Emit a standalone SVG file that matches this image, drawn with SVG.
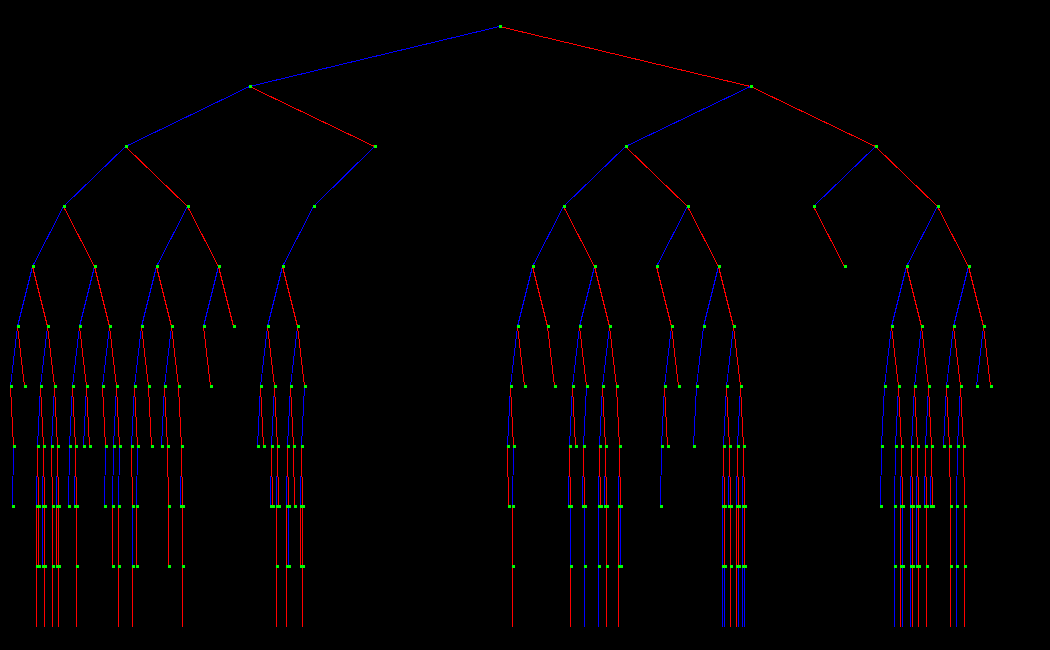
<svg xmlns="http://www.w3.org/2000/svg" xmlns:xlink="http://www.w3.org/1999/xlink" width="1050" height="650" viewBox="0 0 1050 650">
<style>
#edges line{stroke-width:1;fill:none}
.b{stroke:#0000ff}
.r{stroke:#ff0000}
.sq{fill:#00ff00}
</style>
<defs><rect id="q" class="sq" x="0" y="0" width="3" height="3"/></defs>
<rect x="0" y="0" width="1050" height="650" fill="#000000"/>
<g id="edges" transform="translate(-0.5 0.5)" shape-rendering="crispEdges">
<line class="b" x1="500" y1="26" x2="250" y2="86"/>
<line class="b" x1="250" y1="86" x2="126" y2="146"/>
<line class="b" x1="126" y1="146" x2="64" y2="206"/>
<line class="b" x1="64" y1="206" x2="33" y2="266"/>
<line class="b" x1="33" y1="266" x2="18" y2="326"/>
<line class="b" x1="18" y1="326" x2="11" y2="386"/>
<line class="r" x1="11" y1="386" x2="14" y2="446"/>
<line class="b" x1="14" y1="446" x2="13" y2="506"/>
<line class="r" x1="18" y1="326" x2="25" y2="386"/>
<line class="r" x1="33" y1="266" x2="48" y2="326"/>
<line class="b" x1="48" y1="326" x2="41" y2="386"/>
<line class="b" x1="41" y1="386" x2="38" y2="446"/>
<line class="b" x1="38" y1="446" x2="37" y2="506"/>
<line class="r" x1="37" y1="506" x2="37" y2="566"/>
<line class="r" x1="37" y1="566" x2="37" y2="626"/>
<line class="r" x1="38" y1="446" x2="39" y2="506"/>
<line class="r" x1="39" y1="506" x2="39" y2="566"/>
<line class="r" x1="41" y1="386" x2="44" y2="446"/>
<line class="b" x1="44" y1="446" x2="43" y2="506"/>
<line class="b" x1="43" y1="506" x2="43" y2="566"/>
<line class="r" x1="44" y1="446" x2="45" y2="506"/>
<line class="r" x1="45" y1="506" x2="45" y2="566"/>
<line class="r" x1="45" y1="566" x2="45" y2="626"/>
<line class="r" x1="48" y1="326" x2="55" y2="386"/>
<line class="b" x1="55" y1="386" x2="52" y2="446"/>
<line class="r" x1="52" y1="446" x2="53" y2="506"/>
<line class="r" x1="53" y1="506" x2="53" y2="566"/>
<line class="r" x1="53" y1="566" x2="53" y2="626"/>
<line class="r" x1="55" y1="386" x2="58" y2="446"/>
<line class="b" x1="58" y1="446" x2="57" y2="506"/>
<line class="r" x1="57" y1="506" x2="57" y2="566"/>
<line class="r" x1="58" y1="446" x2="59" y2="506"/>
<line class="r" x1="59" y1="506" x2="59" y2="566"/>
<line class="r" x1="59" y1="566" x2="59" y2="626"/>
<line class="r" x1="64" y1="206" x2="95" y2="266"/>
<line class="b" x1="95" y1="266" x2="80" y2="326"/>
<line class="b" x1="80" y1="326" x2="73" y2="386"/>
<line class="b" x1="73" y1="386" x2="70" y2="446"/>
<line class="b" x1="70" y1="446" x2="69" y2="506"/>
<line class="r" x1="73" y1="386" x2="76" y2="446"/>
<line class="b" x1="76" y1="446" x2="75" y2="506"/>
<line class="r" x1="76" y1="446" x2="77" y2="506"/>
<line class="r" x1="77" y1="506" x2="77" y2="566"/>
<line class="r" x1="77" y1="566" x2="77" y2="626"/>
<line class="r" x1="80" y1="326" x2="87" y2="386"/>
<line class="b" x1="87" y1="386" x2="84" y2="446"/>
<line class="r" x1="87" y1="386" x2="90" y2="446"/>
<line class="r" x1="95" y1="266" x2="110" y2="326"/>
<line class="b" x1="110" y1="326" x2="103" y2="386"/>
<line class="r" x1="103" y1="386" x2="106" y2="446"/>
<line class="b" x1="106" y1="446" x2="105" y2="506"/>
<line class="r" x1="110" y1="326" x2="117" y2="386"/>
<line class="b" x1="117" y1="386" x2="114" y2="446"/>
<line class="b" x1="114" y1="446" x2="113" y2="506"/>
<line class="r" x1="113" y1="506" x2="113" y2="566"/>
<line class="r" x1="117" y1="386" x2="120" y2="446"/>
<line class="b" x1="120" y1="446" x2="119" y2="506"/>
<line class="r" x1="119" y1="506" x2="119" y2="566"/>
<line class="r" x1="119" y1="566" x2="119" y2="626"/>
<line class="r" x1="126" y1="146" x2="188" y2="206"/>
<line class="b" x1="188" y1="206" x2="157" y2="266"/>
<line class="b" x1="157" y1="266" x2="142" y2="326"/>
<line class="b" x1="142" y1="326" x2="135" y2="386"/>
<line class="b" x1="135" y1="386" x2="132" y2="446"/>
<line class="r" x1="132" y1="446" x2="133" y2="506"/>
<line class="b" x1="133" y1="506" x2="133" y2="566"/>
<line class="r" x1="133" y1="566" x2="133" y2="626"/>
<line class="r" x1="135" y1="386" x2="138" y2="446"/>
<line class="b" x1="138" y1="446" x2="137" y2="506"/>
<line class="r" x1="137" y1="506" x2="137" y2="566"/>
<line class="r" x1="142" y1="326" x2="149" y2="386"/>
<line class="r" x1="149" y1="386" x2="152" y2="446"/>
<line class="r" x1="157" y1="266" x2="172" y2="326"/>
<line class="b" x1="172" y1="326" x2="165" y2="386"/>
<line class="b" x1="165" y1="386" x2="162" y2="446"/>
<line class="r" x1="165" y1="386" x2="168" y2="446"/>
<line class="r" x1="168" y1="446" x2="169" y2="506"/>
<line class="r" x1="169" y1="506" x2="169" y2="566"/>
<line class="r" x1="172" y1="326" x2="179" y2="386"/>
<line class="r" x1="179" y1="386" x2="182" y2="446"/>
<line class="b" x1="182" y1="446" x2="181" y2="506"/>
<line class="r" x1="182" y1="446" x2="183" y2="506"/>
<line class="r" x1="183" y1="506" x2="183" y2="566"/>
<line class="r" x1="183" y1="566" x2="183" y2="626"/>
<line class="r" x1="188" y1="206" x2="219" y2="266"/>
<line class="b" x1="219" y1="266" x2="204" y2="326"/>
<line class="r" x1="204" y1="326" x2="211" y2="386"/>
<line class="r" x1="219" y1="266" x2="234" y2="326"/>
<line class="r" x1="250" y1="86" x2="375" y2="146"/>
<line class="b" x1="375" y1="146" x2="314" y2="206"/>
<line class="b" x1="314" y1="206" x2="283" y2="266"/>
<line class="b" x1="283" y1="266" x2="268" y2="326"/>
<line class="b" x1="268" y1="326" x2="261" y2="386"/>
<line class="b" x1="261" y1="386" x2="258" y2="446"/>
<line class="r" x1="261" y1="386" x2="264" y2="446"/>
<line class="r" x1="268" y1="326" x2="275" y2="386"/>
<line class="b" x1="275" y1="386" x2="272" y2="446"/>
<line class="b" x1="272" y1="446" x2="271" y2="506"/>
<line class="r" x1="272" y1="446" x2="273" y2="506"/>
<line class="r" x1="275" y1="386" x2="278" y2="446"/>
<line class="b" x1="278" y1="446" x2="277" y2="506"/>
<line class="r" x1="277" y1="506" x2="277" y2="566"/>
<line class="r" x1="277" y1="566" x2="277" y2="626"/>
<line class="r" x1="278" y1="446" x2="279" y2="506"/>
<line class="r" x1="283" y1="266" x2="298" y2="326"/>
<line class="b" x1="298" y1="326" x2="291" y2="386"/>
<line class="b" x1="291" y1="386" x2="288" y2="446"/>
<line class="b" x1="288" y1="446" x2="287" y2="506"/>
<line class="r" x1="287" y1="506" x2="287" y2="566"/>
<line class="r" x1="287" y1="566" x2="287" y2="626"/>
<line class="r" x1="288" y1="446" x2="289" y2="506"/>
<line class="b" x1="289" y1="506" x2="289" y2="566"/>
<line class="r" x1="291" y1="386" x2="294" y2="446"/>
<line class="r" x1="294" y1="446" x2="295" y2="506"/>
<line class="r" x1="298" y1="326" x2="305" y2="386"/>
<line class="b" x1="305" y1="386" x2="302" y2="446"/>
<line class="b" x1="302" y1="446" x2="301" y2="506"/>
<line class="r" x1="301" y1="506" x2="301" y2="566"/>
<line class="r" x1="302" y1="446" x2="303" y2="506"/>
<line class="r" x1="303" y1="506" x2="303" y2="566"/>
<line class="r" x1="303" y1="566" x2="303" y2="626"/>
<line class="r" x1="500" y1="26" x2="751" y2="86"/>
<line class="b" x1="751" y1="86" x2="626" y2="146"/>
<line class="b" x1="626" y1="146" x2="564" y2="206"/>
<line class="b" x1="564" y1="206" x2="533" y2="266"/>
<line class="b" x1="533" y1="266" x2="518" y2="326"/>
<line class="b" x1="518" y1="326" x2="511" y2="386"/>
<line class="b" x1="511" y1="386" x2="508" y2="446"/>
<line class="r" x1="508" y1="446" x2="509" y2="506"/>
<line class="r" x1="511" y1="386" x2="514" y2="446"/>
<line class="b" x1="514" y1="446" x2="513" y2="506"/>
<line class="r" x1="513" y1="506" x2="513" y2="566"/>
<line class="r" x1="513" y1="566" x2="513" y2="626"/>
<line class="r" x1="518" y1="326" x2="525" y2="386"/>
<line class="r" x1="533" y1="266" x2="548" y2="326"/>
<line class="r" x1="548" y1="326" x2="555" y2="386"/>
<line class="r" x1="564" y1="206" x2="595" y2="266"/>
<line class="b" x1="595" y1="266" x2="580" y2="326"/>
<line class="b" x1="580" y1="326" x2="573" y2="386"/>
<line class="b" x1="573" y1="386" x2="570" y2="446"/>
<line class="b" x1="570" y1="446" x2="569" y2="506"/>
<line class="r" x1="570" y1="446" x2="571" y2="506"/>
<line class="b" x1="571" y1="506" x2="571" y2="566"/>
<line class="r" x1="571" y1="566" x2="571" y2="626"/>
<line class="r" x1="573" y1="386" x2="576" y2="446"/>
<line class="r" x1="580" y1="326" x2="587" y2="386"/>
<line class="b" x1="587" y1="386" x2="584" y2="446"/>
<line class="b" x1="584" y1="446" x2="583" y2="506"/>
<line class="r" x1="584" y1="446" x2="585" y2="506"/>
<line class="b" x1="585" y1="506" x2="585" y2="566"/>
<line class="b" x1="585" y1="566" x2="585" y2="626"/>
<line class="r" x1="595" y1="266" x2="610" y2="326"/>
<line class="b" x1="610" y1="326" x2="603" y2="386"/>
<line class="b" x1="603" y1="386" x2="600" y2="446"/>
<line class="b" x1="600" y1="446" x2="599" y2="506"/>
<line class="b" x1="599" y1="506" x2="599" y2="566"/>
<line class="b" x1="599" y1="566" x2="599" y2="626"/>
<line class="r" x1="600" y1="446" x2="601" y2="506"/>
<line class="r" x1="603" y1="386" x2="606" y2="446"/>
<line class="b" x1="606" y1="446" x2="605" y2="506"/>
<line class="r" x1="606" y1="446" x2="607" y2="506"/>
<line class="r" x1="607" y1="506" x2="607" y2="566"/>
<line class="r" x1="607" y1="566" x2="607" y2="626"/>
<line class="r" x1="610" y1="326" x2="617" y2="386"/>
<line class="r" x1="617" y1="386" x2="620" y2="446"/>
<line class="b" x1="620" y1="446" x2="619" y2="506"/>
<line class="r" x1="619" y1="506" x2="619" y2="566"/>
<line class="r" x1="619" y1="566" x2="619" y2="626"/>
<line class="r" x1="620" y1="446" x2="621" y2="506"/>
<line class="b" x1="621" y1="506" x2="621" y2="566"/>
<line class="r" x1="626" y1="146" x2="688" y2="206"/>
<line class="b" x1="688" y1="206" x2="657" y2="266"/>
<line class="r" x1="657" y1="266" x2="672" y2="326"/>
<line class="b" x1="672" y1="326" x2="665" y2="386"/>
<line class="b" x1="665" y1="386" x2="662" y2="446"/>
<line class="b" x1="662" y1="446" x2="661" y2="506"/>
<line class="r" x1="665" y1="386" x2="668" y2="446"/>
<line class="r" x1="672" y1="326" x2="679" y2="386"/>
<line class="r" x1="688" y1="206" x2="719" y2="266"/>
<line class="b" x1="719" y1="266" x2="704" y2="326"/>
<line class="b" x1="704" y1="326" x2="697" y2="386"/>
<line class="b" x1="697" y1="386" x2="694" y2="446"/>
<line class="r" x1="719" y1="266" x2="734" y2="326"/>
<line class="b" x1="734" y1="326" x2="727" y2="386"/>
<line class="b" x1="727" y1="386" x2="724" y2="446"/>
<line class="b" x1="724" y1="446" x2="723" y2="506"/>
<line class="b" x1="723" y1="506" x2="723" y2="566"/>
<line class="b" x1="723" y1="566" x2="723" y2="626"/>
<line class="r" x1="724" y1="446" x2="725" y2="506"/>
<line class="b" x1="725" y1="506" x2="725" y2="566"/>
<line class="b" x1="725" y1="566" x2="725" y2="626"/>
<line class="r" x1="725" y1="506" x2="725" y2="566"/>
<line class="r" x1="727" y1="386" x2="730" y2="446"/>
<line class="b" x1="730" y1="446" x2="729" y2="506"/>
<line class="r" x1="730" y1="446" x2="731" y2="506"/>
<line class="r" x1="731" y1="506" x2="731" y2="566"/>
<line class="r" x1="731" y1="566" x2="731" y2="626"/>
<line class="r" x1="734" y1="326" x2="741" y2="386"/>
<line class="b" x1="741" y1="386" x2="738" y2="446"/>
<line class="b" x1="738" y1="446" x2="737" y2="506"/>
<line class="r" x1="737" y1="506" x2="737" y2="566"/>
<line class="r" x1="737" y1="566" x2="737" y2="626"/>
<line class="r" x1="738" y1="446" x2="739" y2="506"/>
<line class="b" x1="739" y1="506" x2="739" y2="566"/>
<line class="b" x1="739" y1="566" x2="739" y2="626"/>
<line class="r" x1="739" y1="506" x2="739" y2="566"/>
<line class="r" x1="741" y1="386" x2="744" y2="446"/>
<line class="b" x1="744" y1="446" x2="743" y2="506"/>
<line class="b" x1="743" y1="506" x2="743" y2="566"/>
<line class="b" x1="743" y1="566" x2="743" y2="626"/>
<line class="r" x1="744" y1="446" x2="745" y2="506"/>
<line class="b" x1="745" y1="506" x2="745" y2="566"/>
<line class="b" x1="745" y1="566" x2="745" y2="626"/>
<line class="r" x1="745" y1="506" x2="745" y2="566"/>
<line class="r" x1="751" y1="86" x2="876" y2="146"/>
<line class="b" x1="876" y1="146" x2="814" y2="206"/>
<line class="r" x1="814" y1="206" x2="845" y2="266"/>
<line class="r" x1="876" y1="146" x2="938" y2="206"/>
<line class="b" x1="938" y1="206" x2="907" y2="266"/>
<line class="b" x1="907" y1="266" x2="892" y2="326"/>
<line class="b" x1="892" y1="326" x2="885" y2="386"/>
<line class="b" x1="885" y1="386" x2="882" y2="446"/>
<line class="b" x1="882" y1="446" x2="881" y2="506"/>
<line class="r" x1="892" y1="326" x2="899" y2="386"/>
<line class="b" x1="899" y1="386" x2="896" y2="446"/>
<line class="b" x1="896" y1="446" x2="895" y2="506"/>
<line class="b" x1="895" y1="506" x2="895" y2="566"/>
<line class="b" x1="895" y1="566" x2="895" y2="626"/>
<line class="r" x1="899" y1="386" x2="902" y2="446"/>
<line class="b" x1="902" y1="446" x2="901" y2="506"/>
<line class="r" x1="901" y1="506" x2="901" y2="566"/>
<line class="r" x1="901" y1="566" x2="901" y2="626"/>
<line class="r" x1="902" y1="446" x2="903" y2="506"/>
<line class="b" x1="903" y1="506" x2="903" y2="566"/>
<line class="b" x1="903" y1="566" x2="903" y2="626"/>
<line class="r" x1="907" y1="266" x2="922" y2="326"/>
<line class="b" x1="922" y1="326" x2="915" y2="386"/>
<line class="b" x1="915" y1="386" x2="912" y2="446"/>
<line class="b" x1="912" y1="446" x2="911" y2="506"/>
<line class="b" x1="911" y1="506" x2="911" y2="566"/>
<line class="b" x1="911" y1="566" x2="911" y2="626"/>
<line class="r" x1="912" y1="446" x2="913" y2="506"/>
<line class="r" x1="913" y1="506" x2="913" y2="566"/>
<line class="r" x1="913" y1="566" x2="913" y2="626"/>
<line class="r" x1="915" y1="386" x2="918" y2="446"/>
<line class="b" x1="918" y1="446" x2="917" y2="506"/>
<line class="b" x1="917" y1="506" x2="917" y2="566"/>
<line class="r" x1="918" y1="446" x2="919" y2="506"/>
<line class="r" x1="919" y1="506" x2="919" y2="566"/>
<line class="r" x1="919" y1="566" x2="919" y2="626"/>
<line class="r" x1="922" y1="326" x2="929" y2="386"/>
<line class="b" x1="929" y1="386" x2="926" y2="446"/>
<line class="b" x1="926" y1="446" x2="925" y2="506"/>
<line class="r" x1="926" y1="446" x2="927" y2="506"/>
<line class="r" x1="927" y1="506" x2="927" y2="566"/>
<line class="r" x1="927" y1="566" x2="927" y2="626"/>
<line class="r" x1="929" y1="386" x2="932" y2="446"/>
<line class="b" x1="932" y1="446" x2="931" y2="506"/>
<line class="r" x1="932" y1="446" x2="933" y2="506"/>
<line class="r" x1="938" y1="206" x2="969" y2="266"/>
<line class="b" x1="969" y1="266" x2="954" y2="326"/>
<line class="b" x1="954" y1="326" x2="947" y2="386"/>
<line class="b" x1="947" y1="386" x2="944" y2="446"/>
<line class="r" x1="947" y1="386" x2="950" y2="446"/>
<line class="r" x1="950" y1="446" x2="951" y2="506"/>
<line class="r" x1="951" y1="506" x2="951" y2="566"/>
<line class="r" x1="951" y1="566" x2="951" y2="626"/>
<line class="r" x1="954" y1="326" x2="961" y2="386"/>
<line class="b" x1="961" y1="386" x2="958" y2="446"/>
<line class="b" x1="958" y1="446" x2="957" y2="506"/>
<line class="b" x1="957" y1="506" x2="957" y2="566"/>
<line class="b" x1="957" y1="566" x2="957" y2="626"/>
<line class="r" x1="961" y1="386" x2="964" y2="446"/>
<line class="r" x1="964" y1="446" x2="965" y2="506"/>
<line class="r" x1="965" y1="506" x2="965" y2="566"/>
<line class="r" x1="965" y1="566" x2="965" y2="626"/>
<line class="r" x1="969" y1="266" x2="984" y2="326"/>
<line class="b" x1="984" y1="326" x2="977" y2="386"/>
<line class="r" x1="984" y1="326" x2="991" y2="386"/>
</g>
<g id="nodes">
<g id="n-root"><use href="#q" x="499" y="25"/></g>
<g id="n-L"><use href="#q" x="249" y="85"/></g>
<g id="n-LL"><use href="#q" x="125" y="145"/></g>
<g id="n-LLL"><use href="#q" x="63" y="205"/></g>
<g id="n-LLLL"><use href="#q" x="32" y="265"/></g>
<g id="n-LLLLL"><use href="#q" x="17" y="325"/></g>
<g id="n-LLLLLL"><use href="#q" x="10" y="385"/></g>
<g id="n-LLLLLLR"><use href="#q" x="13" y="445"/></g>
<g id="n-LLLLLLRL"><use href="#q" x="12" y="505"/></g>
<g id="n-LLLLLR"><use href="#q" x="24" y="385"/></g>
<g id="n-LLLLR"><use href="#q" x="47" y="325"/></g>
<g id="n-LLLLRL"><use href="#q" x="40" y="385"/></g>
<g id="n-LLLLRLL"><use href="#q" x="37" y="445"/></g>
<g id="n-LLLLRLLL"><use href="#q" x="36" y="505"/></g>
<g id="n-LLLLRLLLR"><use href="#q" x="36" y="565"/></g>
<g id="n-LLLLRLLR"><use href="#q" x="38" y="505"/></g>
<g id="n-LLLLRLLRR"><use href="#q" x="38" y="565"/></g>
<g id="n-LLLLRLR"><use href="#q" x="43" y="445"/></g>
<g id="n-LLLLRLRL"><use href="#q" x="42" y="505"/></g>
<g id="n-LLLLRLRLL"><use href="#q" x="42" y="565"/></g>
<g id="n-LLLLRLRR"><use href="#q" x="44" y="505"/></g>
<g id="n-LLLLRLRRR"><use href="#q" x="44" y="565"/></g>
<g id="n-LLLLRR"><use href="#q" x="54" y="385"/></g>
<g id="n-LLLLRRL"><use href="#q" x="51" y="445"/></g>
<g id="n-LLLLRRLR"><use href="#q" x="52" y="505"/></g>
<g id="n-LLLLRRLRR"><use href="#q" x="52" y="565"/></g>
<g id="n-LLLLRRR"><use href="#q" x="57" y="445"/></g>
<g id="n-LLLLRRRL"><use href="#q" x="56" y="505"/></g>
<g id="n-LLLLRRRLR"><use href="#q" x="56" y="565"/></g>
<g id="n-LLLLRRRR"><use href="#q" x="58" y="505"/></g>
<g id="n-LLLLRRRRR"><use href="#q" x="58" y="565"/></g>
<g id="n-LLLR"><use href="#q" x="94" y="265"/></g>
<g id="n-LLLRL"><use href="#q" x="79" y="325"/></g>
<g id="n-LLLRLL"><use href="#q" x="72" y="385"/></g>
<g id="n-LLLRLLL"><use href="#q" x="69" y="445"/></g>
<g id="n-LLLRLLLL"><use href="#q" x="68" y="505"/></g>
<g id="n-LLLRLLR"><use href="#q" x="75" y="445"/></g>
<g id="n-LLLRLLRL"><use href="#q" x="74" y="505"/></g>
<g id="n-LLLRLLRR"><use href="#q" x="76" y="505"/></g>
<g id="n-LLLRLLRRR"><use href="#q" x="76" y="565"/></g>
<g id="n-LLLRLR"><use href="#q" x="86" y="385"/></g>
<g id="n-LLLRLRL"><use href="#q" x="83" y="445"/></g>
<g id="n-LLLRLRR"><use href="#q" x="89" y="445"/></g>
<g id="n-LLLRR"><use href="#q" x="109" y="325"/></g>
<g id="n-LLLRRL"><use href="#q" x="102" y="385"/></g>
<g id="n-LLLRRLR"><use href="#q" x="105" y="445"/></g>
<g id="n-LLLRRLRL"><use href="#q" x="104" y="505"/></g>
<g id="n-LLLRRR"><use href="#q" x="116" y="385"/></g>
<g id="n-LLLRRRL"><use href="#q" x="113" y="445"/></g>
<g id="n-LLLRRRLL"><use href="#q" x="112" y="505"/></g>
<g id="n-LLLRRRLLR"><use href="#q" x="112" y="565"/></g>
<g id="n-LLLRRRR"><use href="#q" x="119" y="445"/></g>
<g id="n-LLLRRRRL"><use href="#q" x="118" y="505"/></g>
<g id="n-LLLRRRRLR"><use href="#q" x="118" y="565"/></g>
<g id="n-LLR"><use href="#q" x="187" y="205"/></g>
<g id="n-LLRL"><use href="#q" x="156" y="265"/></g>
<g id="n-LLRLL"><use href="#q" x="141" y="325"/></g>
<g id="n-LLRLLL"><use href="#q" x="134" y="385"/></g>
<g id="n-LLRLLLL"><use href="#q" x="131" y="445"/></g>
<g id="n-LLRLLLLR"><use href="#q" x="132" y="505"/></g>
<g id="n-LLRLLLLRL"><use href="#q" x="132" y="565"/></g>
<g id="n-LLRLLLR"><use href="#q" x="137" y="445"/></g>
<g id="n-LLRLLLRL"><use href="#q" x="136" y="505"/></g>
<g id="n-LLRLLLRLR"><use href="#q" x="136" y="565"/></g>
<g id="n-LLRLLR"><use href="#q" x="148" y="385"/></g>
<g id="n-LLRLLRR"><use href="#q" x="151" y="445"/></g>
<g id="n-LLRLR"><use href="#q" x="171" y="325"/></g>
<g id="n-LLRLRL"><use href="#q" x="164" y="385"/></g>
<g id="n-LLRLRLL"><use href="#q" x="161" y="445"/></g>
<g id="n-LLRLRLR"><use href="#q" x="167" y="445"/></g>
<g id="n-LLRLRLRR"><use href="#q" x="168" y="505"/></g>
<g id="n-LLRLRLRRR"><use href="#q" x="168" y="565"/></g>
<g id="n-LLRLRR"><use href="#q" x="178" y="385"/></g>
<g id="n-LLRLRRR"><use href="#q" x="181" y="445"/></g>
<g id="n-LLRLRRRL"><use href="#q" x="180" y="505"/></g>
<g id="n-LLRLRRRR"><use href="#q" x="182" y="505"/></g>
<g id="n-LLRLRRRRR"><use href="#q" x="182" y="565"/></g>
<g id="n-LLRR"><use href="#q" x="218" y="265"/></g>
<g id="n-LLRRL"><use href="#q" x="203" y="325"/></g>
<g id="n-LLRRLR"><use href="#q" x="210" y="385"/></g>
<g id="n-LLRRR"><use href="#q" x="233" y="325"/></g>
<g id="n-LR"><use href="#q" x="374" y="145"/></g>
<g id="n-LRL"><use href="#q" x="313" y="205"/></g>
<g id="n-LRLL"><use href="#q" x="282" y="265"/></g>
<g id="n-LRLLL"><use href="#q" x="267" y="325"/></g>
<g id="n-LRLLLL"><use href="#q" x="260" y="385"/></g>
<g id="n-LRLLLLL"><use href="#q" x="257" y="445"/></g>
<g id="n-LRLLLLR"><use href="#q" x="263" y="445"/></g>
<g id="n-LRLLLR"><use href="#q" x="274" y="385"/></g>
<g id="n-LRLLLRL"><use href="#q" x="271" y="445"/></g>
<g id="n-LRLLLRLL"><use href="#q" x="270" y="505"/></g>
<g id="n-LRLLLRLR"><use href="#q" x="272" y="505"/></g>
<g id="n-LRLLLRR"><use href="#q" x="277" y="445"/></g>
<g id="n-LRLLLRRL"><use href="#q" x="276" y="505"/></g>
<g id="n-LRLLLRRLR"><use href="#q" x="276" y="565"/></g>
<g id="n-LRLLLRRR"><use href="#q" x="278" y="505"/></g>
<g id="n-LRLLR"><use href="#q" x="297" y="325"/></g>
<g id="n-LRLLRL"><use href="#q" x="290" y="385"/></g>
<g id="n-LRLLRLL"><use href="#q" x="287" y="445"/></g>
<g id="n-LRLLRLLL"><use href="#q" x="286" y="505"/></g>
<g id="n-LRLLRLLLR"><use href="#q" x="286" y="565"/></g>
<g id="n-LRLLRLLR"><use href="#q" x="288" y="505"/></g>
<g id="n-LRLLRLLRL"><use href="#q" x="288" y="565"/></g>
<g id="n-LRLLRLR"><use href="#q" x="293" y="445"/></g>
<g id="n-LRLLRLRR"><use href="#q" x="294" y="505"/></g>
<g id="n-LRLLRR"><use href="#q" x="304" y="385"/></g>
<g id="n-LRLLRRL"><use href="#q" x="301" y="445"/></g>
<g id="n-LRLLRRLL"><use href="#q" x="300" y="505"/></g>
<g id="n-LRLLRRLLR"><use href="#q" x="300" y="565"/></g>
<g id="n-LRLLRRLR"><use href="#q" x="302" y="505"/></g>
<g id="n-LRLLRRLRR"><use href="#q" x="302" y="565"/></g>
<g id="n-R"><use href="#q" x="750" y="85"/></g>
<g id="n-RL"><use href="#q" x="625" y="145"/></g>
<g id="n-RLL"><use href="#q" x="563" y="205"/></g>
<g id="n-RLLL"><use href="#q" x="532" y="265"/></g>
<g id="n-RLLLL"><use href="#q" x="517" y="325"/></g>
<g id="n-RLLLLL"><use href="#q" x="510" y="385"/></g>
<g id="n-RLLLLLL"><use href="#q" x="507" y="445"/></g>
<g id="n-RLLLLLLR"><use href="#q" x="508" y="505"/></g>
<g id="n-RLLLLLR"><use href="#q" x="513" y="445"/></g>
<g id="n-RLLLLLRL"><use href="#q" x="512" y="505"/></g>
<g id="n-RLLLLLRLR"><use href="#q" x="512" y="565"/></g>
<g id="n-RLLLLR"><use href="#q" x="524" y="385"/></g>
<g id="n-RLLLR"><use href="#q" x="547" y="325"/></g>
<g id="n-RLLLRR"><use href="#q" x="554" y="385"/></g>
<g id="n-RLLR"><use href="#q" x="594" y="265"/></g>
<g id="n-RLLRL"><use href="#q" x="579" y="325"/></g>
<g id="n-RLLRLL"><use href="#q" x="572" y="385"/></g>
<g id="n-RLLRLLL"><use href="#q" x="569" y="445"/></g>
<g id="n-RLLRLLLL"><use href="#q" x="568" y="505"/></g>
<g id="n-RLLRLLLR"><use href="#q" x="570" y="505"/></g>
<g id="n-RLLRLLLRL"><use href="#q" x="570" y="565"/></g>
<g id="n-RLLRLLR"><use href="#q" x="575" y="445"/></g>
<g id="n-RLLRLR"><use href="#q" x="586" y="385"/></g>
<g id="n-RLLRLRL"><use href="#q" x="583" y="445"/></g>
<g id="n-RLLRLRLL"><use href="#q" x="582" y="505"/></g>
<g id="n-RLLRLRLR"><use href="#q" x="584" y="505"/></g>
<g id="n-RLLRLRLRL"><use href="#q" x="584" y="565"/></g>
<g id="n-RLLRR"><use href="#q" x="609" y="325"/></g>
<g id="n-RLLRRL"><use href="#q" x="602" y="385"/></g>
<g id="n-RLLRRLL"><use href="#q" x="599" y="445"/></g>
<g id="n-RLLRRLLL"><use href="#q" x="598" y="505"/></g>
<g id="n-RLLRRLLLL"><use href="#q" x="598" y="565"/></g>
<g id="n-RLLRRLLR"><use href="#q" x="600" y="505"/></g>
<g id="n-RLLRRLR"><use href="#q" x="605" y="445"/></g>
<g id="n-RLLRRLRL"><use href="#q" x="604" y="505"/></g>
<g id="n-RLLRRLRR"><use href="#q" x="606" y="505"/></g>
<g id="n-RLLRRLRRR"><use href="#q" x="606" y="565"/></g>
<g id="n-RLLRRR"><use href="#q" x="616" y="385"/></g>
<g id="n-RLLRRRR"><use href="#q" x="619" y="445"/></g>
<g id="n-RLLRRRRL"><use href="#q" x="618" y="505"/></g>
<g id="n-RLLRRRRLR"><use href="#q" x="618" y="565"/></g>
<g id="n-RLLRRRRR"><use href="#q" x="620" y="505"/></g>
<g id="n-RLLRRRRRL"><use href="#q" x="620" y="565"/></g>
<g id="n-RLR"><use href="#q" x="687" y="205"/></g>
<g id="n-RLRL"><use href="#q" x="656" y="265"/></g>
<g id="n-RLRLR"><use href="#q" x="671" y="325"/></g>
<g id="n-RLRLRL"><use href="#q" x="664" y="385"/></g>
<g id="n-RLRLRLL"><use href="#q" x="661" y="445"/></g>
<g id="n-RLRLRLLL"><use href="#q" x="660" y="505"/></g>
<g id="n-RLRLRLR"><use href="#q" x="667" y="445"/></g>
<g id="n-RLRLRR"><use href="#q" x="678" y="385"/></g>
<g id="n-RLRR"><use href="#q" x="718" y="265"/></g>
<g id="n-RLRRL"><use href="#q" x="703" y="325"/></g>
<g id="n-RLRRLL"><use href="#q" x="696" y="385"/></g>
<g id="n-RLRRLLL"><use href="#q" x="693" y="445"/></g>
<g id="n-RLRRR"><use href="#q" x="733" y="325"/></g>
<g id="n-RLRRRL"><use href="#q" x="726" y="385"/></g>
<g id="n-RLRRRLL"><use href="#q" x="723" y="445"/></g>
<g id="n-RLRRRLLL"><use href="#q" x="722" y="505"/></g>
<g id="n-RLRRRLLLL"><use href="#q" x="722" y="565"/></g>
<g id="n-RLRRRLLR"><use href="#q" x="724" y="505"/></g>
<g id="n-RLRRRLLRL"><use href="#q" x="724" y="565"/></g>
<g id="n-RLRRRLLRR"><use href="#q" x="724" y="565"/></g>
<g id="n-RLRRRLR"><use href="#q" x="729" y="445"/></g>
<g id="n-RLRRRLRL"><use href="#q" x="728" y="505"/></g>
<g id="n-RLRRRLRR"><use href="#q" x="730" y="505"/></g>
<g id="n-RLRRRLRRR"><use href="#q" x="730" y="565"/></g>
<g id="n-RLRRRR"><use href="#q" x="740" y="385"/></g>
<g id="n-RLRRRRL"><use href="#q" x="737" y="445"/></g>
<g id="n-RLRRRRLL"><use href="#q" x="736" y="505"/></g>
<g id="n-RLRRRRLLR"><use href="#q" x="736" y="565"/></g>
<g id="n-RLRRRRLR"><use href="#q" x="738" y="505"/></g>
<g id="n-RLRRRRLRL"><use href="#q" x="738" y="565"/></g>
<g id="n-RLRRRRLRR"><use href="#q" x="738" y="565"/></g>
<g id="n-RLRRRRR"><use href="#q" x="743" y="445"/></g>
<g id="n-RLRRRRRL"><use href="#q" x="742" y="505"/></g>
<g id="n-RLRRRRRLL"><use href="#q" x="742" y="565"/></g>
<g id="n-RLRRRRRR"><use href="#q" x="744" y="505"/></g>
<g id="n-RLRRRRRRL"><use href="#q" x="744" y="565"/></g>
<g id="n-RLRRRRRRR"><use href="#q" x="744" y="565"/></g>
<g id="n-RR"><use href="#q" x="875" y="145"/></g>
<g id="n-RRL"><use href="#q" x="813" y="205"/></g>
<g id="n-RRLR"><use href="#q" x="844" y="265"/></g>
<g id="n-RRR"><use href="#q" x="937" y="205"/></g>
<g id="n-RRRL"><use href="#q" x="906" y="265"/></g>
<g id="n-RRRLL"><use href="#q" x="891" y="325"/></g>
<g id="n-RRRLLL"><use href="#q" x="884" y="385"/></g>
<g id="n-RRRLLLL"><use href="#q" x="881" y="445"/></g>
<g id="n-RRRLLLLL"><use href="#q" x="880" y="505"/></g>
<g id="n-RRRLLR"><use href="#q" x="898" y="385"/></g>
<g id="n-RRRLLRL"><use href="#q" x="895" y="445"/></g>
<g id="n-RRRLLRLL"><use href="#q" x="894" y="505"/></g>
<g id="n-RRRLLRLLL"><use href="#q" x="894" y="565"/></g>
<g id="n-RRRLLRR"><use href="#q" x="901" y="445"/></g>
<g id="n-RRRLLRRL"><use href="#q" x="900" y="505"/></g>
<g id="n-RRRLLRRLR"><use href="#q" x="900" y="565"/></g>
<g id="n-RRRLLRRR"><use href="#q" x="902" y="505"/></g>
<g id="n-RRRLLRRRL"><use href="#q" x="902" y="565"/></g>
<g id="n-RRRLR"><use href="#q" x="921" y="325"/></g>
<g id="n-RRRLRL"><use href="#q" x="914" y="385"/></g>
<g id="n-RRRLRLL"><use href="#q" x="911" y="445"/></g>
<g id="n-RRRLRLLL"><use href="#q" x="910" y="505"/></g>
<g id="n-RRRLRLLLL"><use href="#q" x="910" y="565"/></g>
<g id="n-RRRLRLLR"><use href="#q" x="912" y="505"/></g>
<g id="n-RRRLRLLRR"><use href="#q" x="912" y="565"/></g>
<g id="n-RRRLRLR"><use href="#q" x="917" y="445"/></g>
<g id="n-RRRLRLRL"><use href="#q" x="916" y="505"/></g>
<g id="n-RRRLRLRLL"><use href="#q" x="916" y="565"/></g>
<g id="n-RRRLRLRR"><use href="#q" x="918" y="505"/></g>
<g id="n-RRRLRLRRR"><use href="#q" x="918" y="565"/></g>
<g id="n-RRRLRR"><use href="#q" x="928" y="385"/></g>
<g id="n-RRRLRRL"><use href="#q" x="925" y="445"/></g>
<g id="n-RRRLRRLL"><use href="#q" x="924" y="505"/></g>
<g id="n-RRRLRRLR"><use href="#q" x="926" y="505"/></g>
<g id="n-RRRLRRLRR"><use href="#q" x="926" y="565"/></g>
<g id="n-RRRLRRR"><use href="#q" x="931" y="445"/></g>
<g id="n-RRRLRRRL"><use href="#q" x="930" y="505"/></g>
<g id="n-RRRLRRRR"><use href="#q" x="932" y="505"/></g>
<g id="n-RRRR"><use href="#q" x="968" y="265"/></g>
<g id="n-RRRRL"><use href="#q" x="953" y="325"/></g>
<g id="n-RRRRLL"><use href="#q" x="946" y="385"/></g>
<g id="n-RRRRLLL"><use href="#q" x="943" y="445"/></g>
<g id="n-RRRRLLR"><use href="#q" x="949" y="445"/></g>
<g id="n-RRRRLLRR"><use href="#q" x="950" y="505"/></g>
<g id="n-RRRRLLRRR"><use href="#q" x="950" y="565"/></g>
<g id="n-RRRRLR"><use href="#q" x="960" y="385"/></g>
<g id="n-RRRRLRL"><use href="#q" x="957" y="445"/></g>
<g id="n-RRRRLRLL"><use href="#q" x="956" y="505"/></g>
<g id="n-RRRRLRLLL"><use href="#q" x="956" y="565"/></g>
<g id="n-RRRRLRR"><use href="#q" x="963" y="445"/></g>
<g id="n-RRRRLRRR"><use href="#q" x="964" y="505"/></g>
<g id="n-RRRRLRRRR"><use href="#q" x="964" y="565"/></g>
<g id="n-RRRRR"><use href="#q" x="983" y="325"/></g>
<g id="n-RRRRRL"><use href="#q" x="976" y="385"/></g>
<g id="n-RRRRRR"><use href="#q" x="990" y="385"/></g>
</g>
</svg>
